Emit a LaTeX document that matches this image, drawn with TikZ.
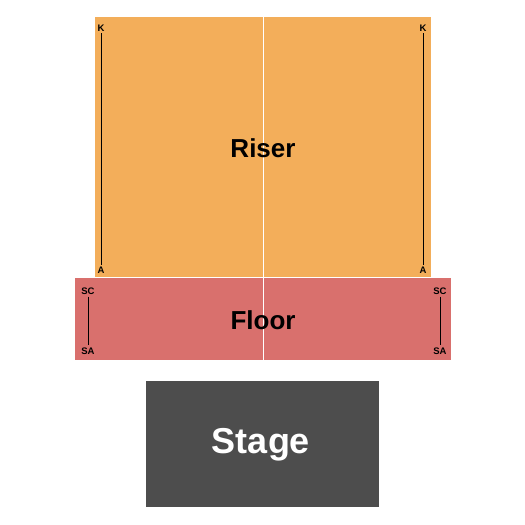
\documentclass[tikz,border=0pt]{standalone}
\usepackage{fontspec}
\setmainfont{Liberation Sans}
\usepackage{tikz}

\definecolor{riser}{RGB}{243,174,90}
\definecolor{floor}{RGB}{217,112,109}
\definecolor{stage}{RGB}{77,77,77}

\tikzset{
	rowlbl/.style={inner sep=0pt, font=\bfseries\fontsize{9.5}{9.5}\selectfont},
	seclbl/.style={inner sep=0pt, font=\bfseries\fontsize{26}{26}\selectfont}
}

\begin{document}
\begin{tikzpicture}[x=1pt, y=-1pt]
	\useasboundingbox (0,0) rectangle (525,525);

	\fill[riser] (95,17) rectangle (431,277);
	\fill[floor] (75,278) rectangle (451,360);
	\fill[stage] (146,381) rectangle (379,507);
	\draw[white, line width=1pt] (263,17) -- (263,360);

	\node[seclbl] (riser) at (263,148) {Riser};
	\node[seclbl] (floor) at (263,320) {Floor};
	\node[seclbl, text=white, font=\bfseries\fontsize{36}{36}\selectfont] (stage) at (261,445) {Stage};

	\node[rowlbl] (kl) at (101,28)  {K};
	\node[rowlbl] (al) at (101,270) {A};
	\node[rowlbl] (kr) at (423,28)  {K};
	\node[rowlbl] (ar) at (423,270) {A};
	\node[rowlbl] (scl) at (88,291) {SC};
	\node[rowlbl] (sal) at (88,351) {SA};
	\node[rowlbl] (scr) at (440,291) {SC};
	\node[rowlbl] (sar) at (440,351) {SA};

	\path[-] (kl) edge[shorten <=2pt, shorten >=2pt] (al);
	\path[-] (kr) edge[shorten <=2pt, shorten >=2pt] (ar);
	\path[-] (scl) edge[shorten <=2pt, shorten >=2pt] (sal);
	\path[-] (scr) edge[shorten <=2pt, shorten >=2pt] (sar);

\end{tikzpicture}
\end{document}
